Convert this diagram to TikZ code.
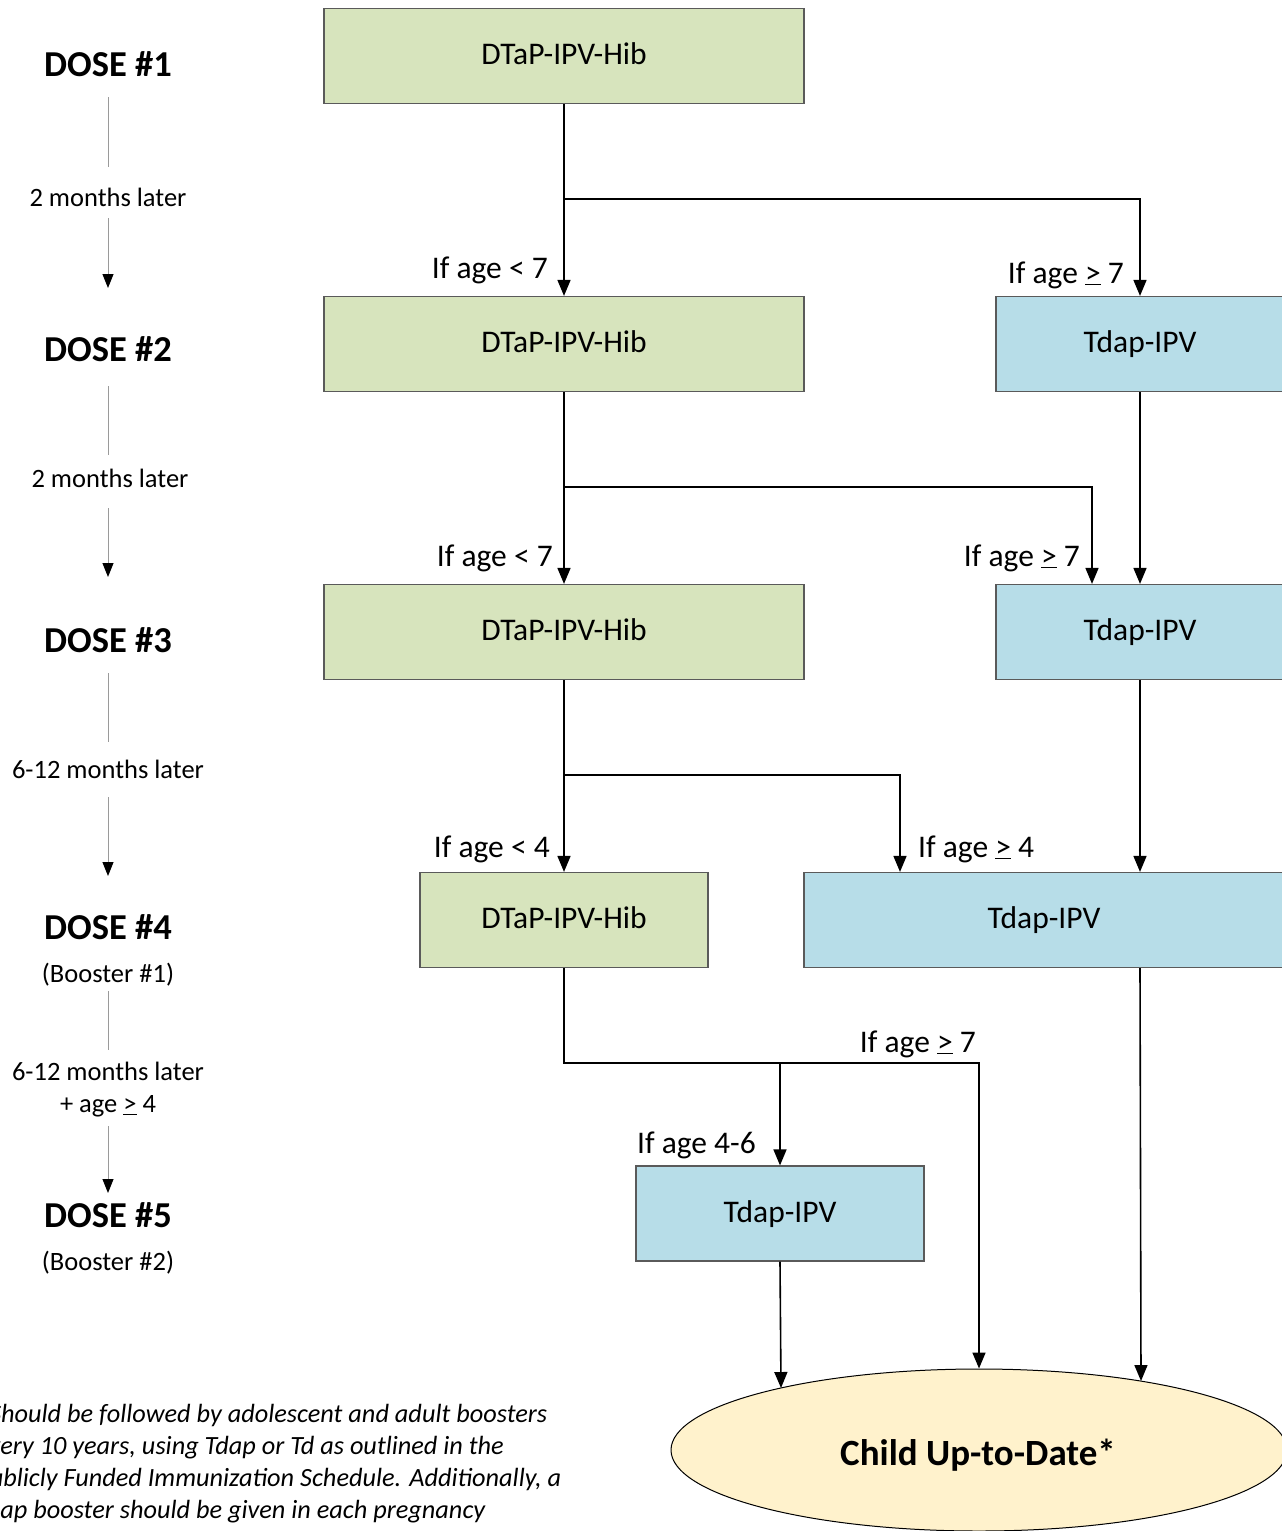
\documentclass[tikz,border=0pt]{standalone}
\usepackage{fontspec}
\setmainfont{Carlito}
\usetikzlibrary{arrows.meta,shapes.geometric,calc}
\definecolor{boxgreen}{HTML}{D7E4BD}
\definecolor{boxblue}{HTML}{B7DDE8}
\definecolor{ellfill}{HTML}{FFF2CC}
\definecolor{boxline}{HTML}{5A5A5A}
\definecolor{tline}{HTML}{9A9A9A}
\newcommand\geu{\underline{>}}
\begin{document}
\begin{tikzpicture}[x=1pt,y=-1pt,
  vbox/.style={draw=boxline,line width=1.2pt,minimum height=95pt,inner sep=0pt,
    font=\fontsize{31.5}{38}\selectfont,text height=23pt,text depth=6pt},
  gbox/.style={vbox,fill=boxgreen,minimum width=480pt},
  bbox/.style={vbox,fill=boxblue},
  arr/.style={line width=1.6pt,-{Triangle[length=16pt,width=13pt]}},
  cond/.style={font=\fontsize{31.5}{38}\selectfont,inner sep=0pt},
  dose/.style={font=\bfseries\fontsize{36.5}{44}\selectfont,inner sep=0pt},
  tl/.style={font=\fontsize{26.5}{32}\selectfont,inner sep=0pt},
  gline/.style={draw=tline,line width=1pt},
  garr/.style={gline,-{Triangle[length=14pt,width=11pt,color=black]}}
]
\useasboundingbox (0,0) rectangle (1282,1531);
\clip (0,0) rectangle (1282,1531);

% boxes
\node[gbox] (g1) at (564,56) {DTaP-IPV-Hib};
\node[gbox] (g2) at (564,344) {DTaP-IPV-Hib};
\node[bbox,minimum width=288pt] (b2) at (1140,344) {Tdap-IPV};
\node[gbox] (g3) at (564,632) {DTaP-IPV-Hib};
\node[bbox,minimum width=288pt] (b3) at (1140,632) {Tdap-IPV};
\node[gbox,minimum width=288pt] (g4) at (564,920) {DTaP-IPV-Hib};
\node[bbox,minimum width=480pt] (b4) at (1044,920) {Tdap-IPV};
\node[bbox,minimum width=288pt] (b5) at (780,1213.5) {Tdap-IPV};
\node[ellipse,draw=black,line width=1pt,fill=ellfill,minimum width=616pt,minimum height=162pt,
  inner sep=0pt] (e) at (979,1450) {};
\node[font=\bfseries\fontsize{37}{44}\selectfont,inner sep=0pt] (et) at (978,1455) {Child Up-to-Date*};

% connectors
\coordinate (j1) at (564,199);
\coordinate (j2) at (564,487);
\coordinate (j3) at (564,775);
\coordinate (k) at (979,1063);
\draw[arr] (g1.south) -- (g2.north);
\draw[arr] (j1) -| (b2.north);
\draw[arr] (g2.south) -- (g3.north);
\draw[arr] (j2) -| ([xshift=-48pt]b3.north);
\draw[arr] (b2.south) -- (b3.north);
\draw[arr] (g3.south) -- (g4.north);
\draw[arr] (j3) -| ([xshift=-144pt]b4.north);
\draw[arr] (b3.south) -- ([xshift=96pt]b4.north);
\draw[arr] (g4.south) |- (k) -- (e.north);
\draw[arr] (b5.north |- k) -- (b5.north);
\draw[arr] (b5.south) -- ($(e.center)+(-198,-62)$);
\draw[arr] ([xshift=96pt]b4.south) -- ($(e.center)+(162,-69)$);

% condition labels
\node[cond,anchor=base east] (c1) at (548,278) {If age < 7};
\node[cond,anchor=base east] (c2) at (1124,283) {If age \geu{} 7};
\node[cond,anchor=base east] (c3) at (553,566) {If age < 7};
\node[cond,anchor=base east] (c4) at (1080,566) {If age \geu{} 7};
\node[cond,anchor=base east] (c5) at (550,857) {If age < 4};
\node[cond,anchor=base west] (c6) at (918,857) {If age \geu{} 4};
\node[cond,anchor=base east] (c7) at (976,1052) {If age \geu{} 7};
\node[cond,anchor=base east] (c8) at (756,1153) {If age 4-6};

% left timeline
\node[dose] (d1) at (108,64) {DOSE \#1};
\node[tl] (t1) at (108,197) {2 months later};
\draw[gline] (108,97) -- (108,167);
\draw[garr] (108,218) -- (108,288);
\node[dose] (d2) at (108,349) {DOSE \#2};
\draw[gline] (108,386) -- (108,455);
\node[tl] (t2) at (110,478) {2 months later};
\draw[garr] (108,508) -- (108,577);
\node[dose] (d3) at (108,640) {DOSE \#3};
\draw[gline] (108,673) -- (108,742);
\node[tl] (t3) at (108,769) {6-12 months later};
\draw[garr] (108,797) -- (108,876);
\node[dose] (d4) at (108,927) {DOSE \#4};
\node[tl] (s4) at (108,975) {(Booster \#1)};
\draw[gline] (108,991) -- (108,1050);
\node[tl,align=center] (t4) at (108,1090) {6-12 months later\\+ age \geu{} 4};
\draw[garr] (108,1126) -- (108,1193);
\node[dose] (d5) at (108,1215) {DOSE \#5};
\node[tl] (s5) at (108,1263) {(Booster \#2)};

% footnote
\node[anchor=north west,align=left,inner sep=0pt,font=\itshape\fontsize{26.3}{32}\selectfont] (fn) at (-24,1404)
  {*Should be followed by adolescent and adult boosters\\
   every 10 years, using Tdap or Td as outlined in the\\
   Publicly Funded Immunization Schedule. Additionally, a\\
   Tdap booster should be given in each pregnancy};
\end{tikzpicture}
\end{document}
